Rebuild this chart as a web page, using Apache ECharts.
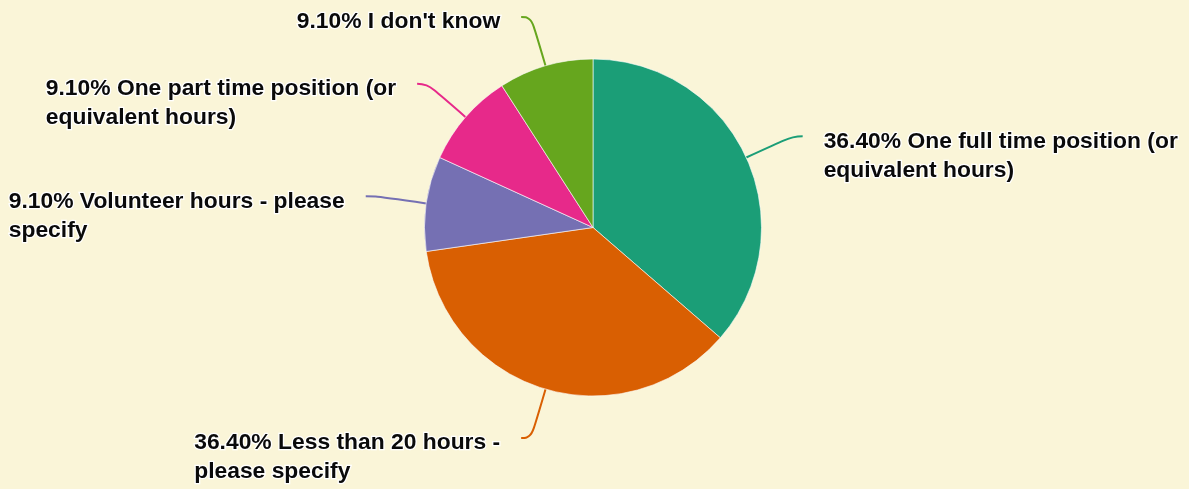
<!DOCTYPE html>
<html>
<head>
<meta charset="utf-8">
<style>
  html, body { margin: 0; padding: 0; background: #faf5d8; }
  #chart { width: 1189px; height: 489px; }
</style>
<script src="https://cdn.jsdelivr.net/npm/echarts@6/dist/echarts.min.js"></script>
</head>
<body>
<div id="chart"></div>
<script>
// Answer categories, in clockwise order from 12 o'clock
const categories = [
  'One full time position (or equivalent hours)',
  'Less than 20 hours - please specify',
  'Volunteer hours - please specify',
  'One part time position (or equivalent hours)',
  "I don't know"
];
// Share of responses, in percent
const shares = [36.4, 36.4, 9.1, 9.1, 9.1];
// Slice colours (ColorBrewer Dark2)
const sliceColors = ['#1b9e77', '#d95f02', '#7570b3', '#e7298a', '#66a61e'];

const FONT_FAMILY = '"Liberation Sans", Arial, Helvetica, sans-serif';
const FONT_SIZE = 22.85;
const LINE_HEIGHT = 29;
const WRAP_WIDTH = 368;

// Word-wrap a label so every line fits inside WRAP_WIDTH
const measureCtx = document.createElement('canvas').getContext('2d');
measureCtx.font = 'bold ' + FONT_SIZE + 'px ' + FONT_FAMILY;
function wrapLabel(text) {
  const words = text.split(' ');
  const lines = [];
  let line = '';
  words.forEach(function (w) {
    const test = line ? line + ' ' + w : w;
    if (line && measureCtx.measureText(test).width > WRAP_WIDTH) {
      lines.push(line);
      line = w;
    } else {
      line = test;
    }
  });
  if (line) lines.push(line);
  return lines;
}

const data = categories.map(function (name, i) {
  const lines = wrapLabel(shares[i].toFixed(2) + '% ' + name);
  // move the text down inside its box so the first line hangs just below
  // the end of the leader line, keeping the box itself the same size
  const shift = lines.length * LINE_HEIGHT / 2 - 9.5;
  return {
    name: name,
    value: shares[i],
    itemStyle: { color: sliceColors[i] },
    label: {
      formatter: lines.map(function (l) { return '{t|' + l + '}'; }).join('\n'),
      padding: [shift, 0, -shift, 0]
    }
  };
});

const chart = echarts.init(document.getElementById('chart'), null, { renderer: 'canvas' });
chart.setOption({
  backgroundColor: '#faf5d8',
  animation: false,
  series: [{
    type: 'pie',
    center: [593, 227.5],
    radius: 168.5,
    startAngle: 90,
    clockwise: true,
    avoidLabelOverlap: false,
    itemStyle: { borderColor: '#ffffff', borderWidth: 0.6 },
    emphasis: { disabled: true },
    label: {
      show: true,
      position: 'outside',
      alignTo: 'none',
      overflow: 'none',
      bleedMargin: 0,
      distanceToLabelLine: 21,
      fontFamily: FONT_FAMILY,
      fontSize: FONT_SIZE,
      fontWeight: 'bold',
      color: '#0a0a0a',
      textBorderColor: '#ffffff',
      textBorderWidth: 2.5,
      lineHeight: LINE_HEIGHT,
      rich: {
        t: {
          align: 'left',
          fontFamily: FONT_FAMILY,
          fontSize: FONT_SIZE,
          fontWeight: 'bold',
          color: '#0a0a0a',
          textBorderColor: '#ffffff',
          textBorderWidth: 2.5,
          lineHeight: LINE_HEIGHT
        }
      }
    },
    labelLine: {
      show: true,
      length: 51,
      length2: 10,
      smooth: 0.5,
      lineStyle: { width: 2 }
    },
    data: data
  }]
});
</script>
</body>
</html>
